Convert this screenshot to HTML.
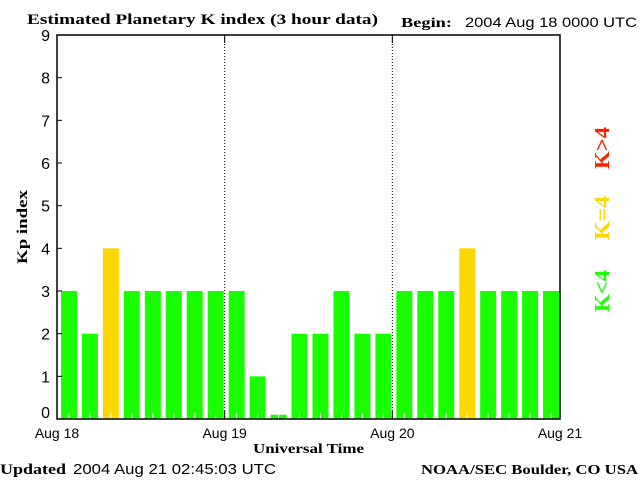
<!DOCTYPE html>
<html><head><meta charset="utf-8"><style>
body{margin:0;background:#fff;}
svg{display:block;font-family:"Liberation Sans",sans-serif;}
.serif{font-family:"Liberation Serif","DejaVu Serif",serif;font-weight:bold;}
</style></head><body>
<svg id="chart" width="640" height="480">
<text class="serif" x="27" y="24" font-size="15" textLength="351" lengthAdjust="spacingAndGlyphs">Estimated Planetary K index (3 hour data)</text>
<text class="serif" x="401" y="27" font-size="14" textLength="51" lengthAdjust="spacingAndGlyphs">Begin:</text>
<text x="465" y="27" font-size="14" textLength="172" lengthAdjust="spacingAndGlyphs">2004 Aug 18 0000 UTC</text>
<text class="serif" x="0" y="474" font-size="15" textLength="66" lengthAdjust="spacingAndGlyphs">Updated</text>
<text x="73" y="474" font-size="15" textLength="203" lengthAdjust="spacingAndGlyphs">2004 Aug 21 02:45:03 UTC</text>
<text class="serif" x="421" y="474" font-size="14" textLength="217" lengthAdjust="spacingAndGlyphs">NOAA/SEC Boulder, CO USA</text>
<text class="serif" x="253" y="453" font-size="14" textLength="111" lengthAdjust="spacingAndGlyphs">Universal Time</text>
<text class="serif" transform="translate(27,227) rotate(-90)" font-size="15" text-anchor="middle" textLength="74" lengthAdjust="spacingAndGlyphs">Kp index</text>
<text class="serif" transform="translate(609,148) rotate(-90)" font-size="21" fill="#ff2000" text-anchor="middle" textLength="42" lengthAdjust="spacingAndGlyphs">K&gt;4</text>
<text class="serif" transform="translate(609,218) rotate(-90)" font-size="21" fill="#ffd700" text-anchor="middle" textLength="44" lengthAdjust="spacingAndGlyphs">K=4</text>
<text class="serif" transform="translate(609,291) rotate(-90)" font-size="21" fill="#1aff00" text-anchor="middle" textLength="42" lengthAdjust="spacingAndGlyphs">K&lt;4</text>
<g id="bars"></g>
<g id="axes"></g>
</svg>
<script>
const kpValues=[3,2,4,3,3,3,3,3, 3,1,0.1,2,2,3,2,2, 3,3,3,4,3,3,3,3];
const dayLabels=["Aug 18","Aug 19","Aug 20","Aug 21"];
const yTicks=[0,1,2,3,4,5,6,7,8,9];
const L=57,R=560,T=35,B=419;
const NS="http://www.w3.org/2000/svg";
const xs=i=>L+(R-L)*i/kpValues.length;
const ys=v=>B-(B-T)*v/9;
function mk(tag,a,parent){const e=document.createElementNS(NS,tag);for(const k in a)e.setAttribute(k,a[k]);parent.appendChild(e);return e;}
const bars=document.getElementById('bars'),axes=document.getElementById('axes');
const slot=(R-L)/kpValues.length;
kpValues.forEach((v,i)=>{
  const c=v>4?"#ff2000":(v>=4?"#ffd700":"#1aff00");
  const r=mk('rect',{x:xs(i)+4,y:ys(v),width:slot-5,height:B-ys(v),fill:c},bars);
  
  
  const t=mk('line',{x1:xs(i+0.5)+1.5,x2:xs(i+0.5)+1.5,y1:B-6,y2:B,stroke:"#fff","stroke-width":1},bars);
  
  
});
dayLabels.forEach((d,i)=>{
  const x=L+(R-L)*i/3;
  if(i>0&&i<3){const g=mk('line',{x1:x,x2:x,y1:T,y2:B,stroke:"#000","stroke-dasharray":"1,2"},axes);
  
  
  mk('line',{x1:x,x2:x,y1:T,y2:T+8,stroke:"#000"},axes);mk('line',{x1:x,x2:x,y1:B-8,y2:B,stroke:"#000"},axes);}
  const t=mk('text',{x:x,y:438,"font-size":14,"text-anchor":"middle"},axes);t.textContent=d;
  
  
});
yTicks.forEach(v=>{
  const y=ys(v);
  mk('line',{x1:L,x2:L+5,y1:y,y2:y,stroke:"#000"},axes);
  const t=mk('text',{x:50,y:v===0?418:y+6,"font-size":16,"text-anchor":"end"},axes);t.textContent=v;
  
  
});
const f=mk('rect',{x:L,y:T,width:R-L,height:B-T,fill:"none",stroke:"#000","stroke-width":1.5},axes);


</script>
</body></html>
